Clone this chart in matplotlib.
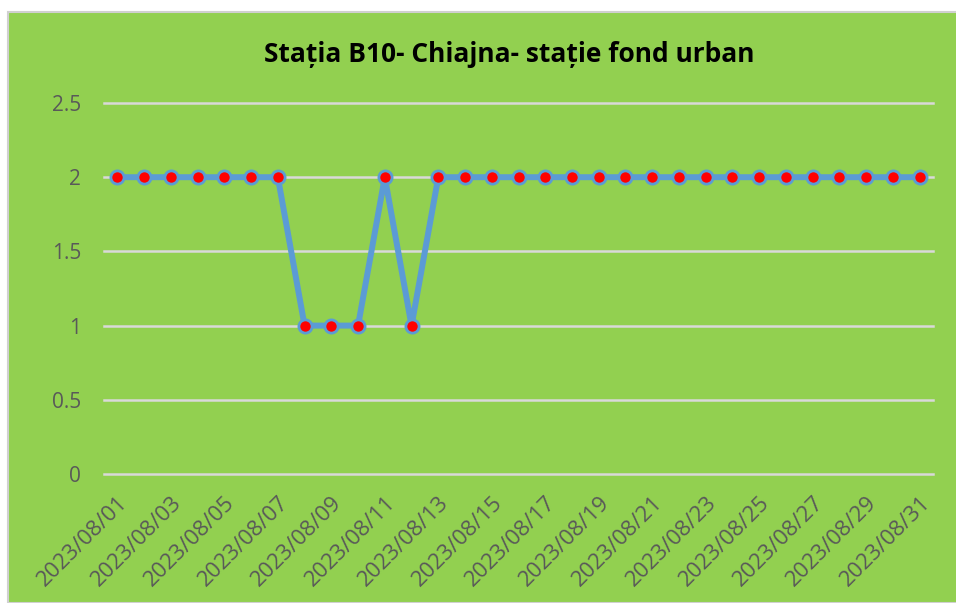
import matplotlib.pyplot as plt
from matplotlib.patches import Rectangle

# date labels and values
dates = ['2023/08/%02d' % d for d in range(1, 32)]
values = [2, 2, 2, 2, 2, 2, 2, 1, 1, 1, 2, 1, 2, 2, 2, 2, 2, 2, 2, 2,
          2, 2, 2, 2, 2, 2, 2, 2, 2, 2, 2]
yticks = [0, 0.5, 1, 1.5, 2, 2.5]
ylabels = ['0', '0.5', '1', '1.5', '2', '2.5']
title = 'Stația B10- Chiajna- stație fond urban'

green = '#92D050'
blue = '#5B9BD5'
grey = '#595959'

plt.rcParams['font.family'] = ['Open Sans', 'DejaVu Sans']

fig = plt.figure(figsize=(9.56, 6.03), dpi=100)
fig.patch.set_facecolor('white')
# chart area background with thin grey border
bg = Rectangle((8 / 956, 0), 1.0, 1 - 12 / 603, transform=fig.transFigure,
               facecolor=green, edgecolor='#D0D0D0', linewidth=1.5, zorder=-10)
fig.patches.append(bg)

ax = fig.add_axes([104 / 956, 1 - 474 / 603, (933 - 104) / 956, (474 - 103) / 603])
ax.set_facecolor('none')
x = list(range(len(dates)))
ax.plot(x, values, color=blue, linewidth=4.3, marker='o', markersize=9.5,
        markerfacecolor='red', markeredgecolor=blue, markeredgewidth=2,
        zorder=3, clip_on=False)

ax.set_xlim(-0.5, len(dates) - 0.5)
ax.set_ylim(0, 2.5)
ax.set_yticks(yticks)
ax.set_yticklabels(ylabels)
ax.set_xticks(x[::2])
ax.set_xticklabels(dates[::2], rotation=45, ha='right', rotation_mode='anchor')
ax.tick_params(axis='both', length=0, colors=grey)
ax.tick_params(axis='y', pad=16.5, labelsize=15)
ax.tick_params(axis='x', pad=13, labelsize=16)
ax.grid(axis='y', color='#D9D9D9', linewidth=1.8, zorder=1)
for gl in ax.get_ygridlines():
    gl.set_clip_on(False)
ax.set_axisbelow(True)
for s in ax.spines.values():
    s.set_visible(False)

fig.text(0.533, 1 - 55 / 603, title, ha='center', va='center',
         fontsize=19, fontweight='bold', color='black')

fig.savefig('out.png', dpi=100, facecolor=fig.get_facecolor())
